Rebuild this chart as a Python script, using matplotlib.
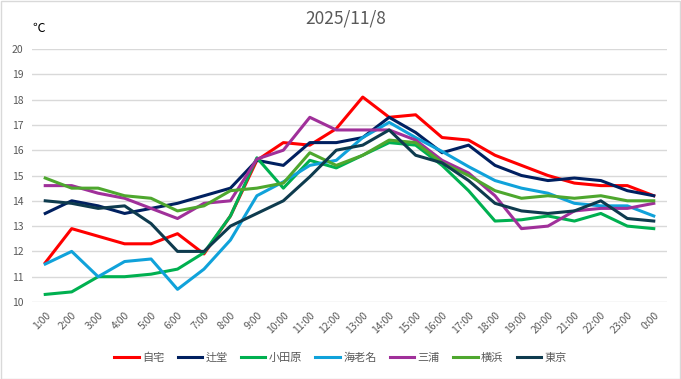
import matplotlib
matplotlib.use("Agg")
import matplotlib.pyplot as plt
from matplotlib.patches import Rectangle

plt.rcParams['font.family'] = ['Noto Sans CJK JP', 'DejaVu Sans']

hours = ["1:00", "2:00", "3:00", "4:00", "5:00", "6:00", "7:00", "8:00", "9:00", "10:00",
         "11:00", "12:00", "13:00", "14:00", "15:00", "16:00", "17:00", "18:00", "19:00",
         "20:00", "21:00", "22:00", "23:00", "0:00"]

jitaku = [11.55, 12.9, 12.6, 12.3, 12.3, 12.7, 11.9, 13.4, 15.6, 16.3, 16.2, 16.85,
          18.1, 17.3, 17.4, 16.5, 16.4, 15.8, 15.4, 15.0, 14.7, 14.6, 14.6, 14.2]
tsujido = [13.5, 14.0, 13.8, 13.5, 13.7, 13.9, 14.2, 14.5, 15.6, 15.4, 16.3, 16.3,
           16.5, 17.3, 16.7, 15.9, 16.2, 15.4, 15.0, 14.8, 14.9, 14.8, 14.4, 14.2]
odawara = [10.3, 10.4, 11.0, 11.0, 11.1, 11.3, 11.95, 13.4, 15.7, 14.5, 15.6, 15.3,
           15.8, 16.3, 16.2, 15.4, 14.4, 13.2, 13.25, 13.4, 13.2, 13.5, 13.0, 12.9]
ebina = [11.5, 12.0, 11.0, 11.6, 11.7, 10.5, 11.3, 12.45, 14.2, 14.75, 15.4, 15.6,
         16.5, 17.1, 16.5, 15.95, 15.35, 14.8, 14.5, 14.3, 13.9, 13.8, 13.8, 13.4]
miura = [14.6, 14.6, 14.3, 14.1, 13.7, 13.3, 13.9, 14.0, 15.65, 16.0, 17.3, 16.8,
         16.8, 16.8, 16.4, 15.6, 15.1, 14.2, 12.9, 13.0, 13.6, 13.7, 13.7, 13.9]
yokohama = [14.9, 14.5, 14.5, 14.2, 14.1, 13.6, 13.8, 14.4, 14.5, 14.7, 15.9, 15.4,
            15.8, 16.4, 16.3, 15.5, 15.0, 14.4, 14.1, 14.2, 14.1, 14.2, 14.0, 14.0]
tokyo = [14.0, 13.9, 13.7, 13.8, 13.1, 12.0, 12.0, 13.0, 13.5, 14.0, 14.95, 16.0,
         16.2, 16.8, 15.8, 15.5, 14.8, 13.9, 13.6, 13.5, 13.6, 14.0, 13.3, 13.2]

names = ["自宅", "辻堂", "小田原", "海老名", "三浦", "横浜", "東京"]
series = [jitaku, tsujido, odawara, ebina, miura, yokohama, tokyo]
colors = ["#FF0000", "#002060", "#00B050", "#10A2DA", "#A0309A", "#4EA72E", "#0E3B4E"]

fig = plt.figure(figsize=(6.81, 3.79), dpi=100)
ax = fig.add_axes([32 / 681, 1 - 302 / 379, 635 / 681, 253 / 379])

x = range(len(hours))
for i, (name, vals, c) in enumerate(zip(names, series, colors)):
    ax.plot(x, vals, color=c, lw=2.2, label=name, zorder=3 + i)

ax.set_xlim(-0.5, len(hours) - 0.5)
ax.set_ylim(10, 20)
ax.set_yticks(range(10, 21))
ax.set_xticks(list(x))
ax.set_xticklabels(hours, rotation=45, ha='right', rotation_mode='anchor')
ax.tick_params(axis='both', length=0, labelsize=7.5, labelcolor='#595959')
ax.tick_params(axis='x', pad=6)
ax.tick_params(axis='y', pad=6)
ax.grid(axis='y', color='#D9D9D9', lw=1)
ax.set_axisbelow(True)
for s in ax.spines.values():
    s.set_visible(False)

fig.text(0.507, 0.952, "2025/11/8", ha='center', va='center', fontsize=12.5, color='#595959')
fig.text(0.056, 0.925, "℃", ha='center', va='center', fontsize=9, color='black')

fig.legend(loc='center', bbox_to_anchor=(0.5, 0.055), ncol=7, frameon=False,
           fontsize=8, handlelength=2.2, handletextpad=0.3, columnspacing=1.2,
           labelcolor='#595959')

fig.patches.append(Rectangle((0.001, 0.001), 0.997, 0.997, transform=fig.transFigure,
                             fill=False, edgecolor='#D9D9D9', lw=1))

fig.savefig("out.png", dpi=100, facecolor='white')
